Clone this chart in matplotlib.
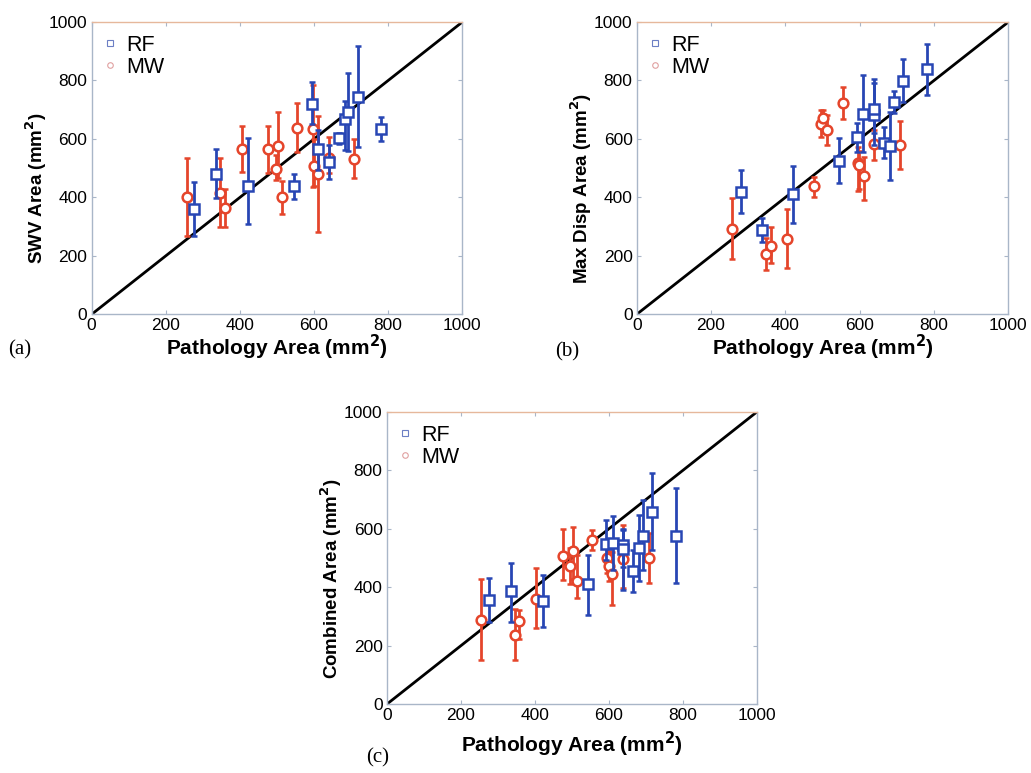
import matplotlib
matplotlib.use("Agg")
import matplotlib.pyplot as plt
from matplotlib.lines import Line2D

plt.rcParams['font.family'] = ['Liberation Sans', 'DejaVu Sans']

# ---------------- data ----------------
# Panel (a) SWV
a_rf_x = [277, 335, 422, 546, 595, 611, 640, 666, 683, 692, 719, 781]
a_rf_y = [360, 479, 440, 439, 719, 564, 522, 602, 667, 693, 744, 634]
a_rf_lo = [269, 397, 309, 393, 651, 494, 463, 582, 562, 560, 571, 593]
a_rf_hi = [453, 564, 602, 480, 796, 630, 579, 622, 730, 824, 918, 674]

a_mw_x = [256, 347, 360, 405, 477, 497, 502, 514, 554, 598, 599, 611, 640, 709]
a_mw_y = [400, 416, 365, 566, 564, 498, 577, 400, 637, 635, 507, 480, 534, 532]
a_mw_lo = [268, 300, 300, 488, 482, 459, 465, 343, 556, 437, 440, 281, 482, 467]
a_mw_hi = [536, 534, 428, 645, 645, 545, 693, 457, 724, 784, 600, 678, 608, 599]

# Panel (b) Max Disp
b_rf_x = [280, 336, 421, 544, 594, 610, 639, 639, 666, 682, 691, 716, 780]
b_rf_y = [418, 288, 410, 526, 605, 685, 682, 701, 587, 576, 727, 799, 838]
b_rf_lo = [348, 248, 313, 450, 556, 556, 579, 619, 534, 459, 688, 727, 750]
b_rf_hi = [494, 328, 507, 602, 653, 819, 804, 792, 640, 693, 765, 873, 925]

b_mw_x = [257, 347, 361, 404, 477, 495, 500, 513, 554, 596, 599, 612, 639, 709]
b_mw_y = [292, 206, 234, 258, 439, 650, 673, 630, 722, 519, 511, 474, 581, 579]
b_mw_lo = [188, 150, 175, 157, 402, 608, 630, 579, 667, 422, 430, 391, 528, 496]
b_mw_hi = [397, 260, 300, 359, 471, 699, 699, 682, 777, 573, 560, 539, 630, 662]

# Panel (c) Combined
c_rf_x = [277, 335, 422, 545, 592, 611, 638, 638, 666, 682, 692, 718, 782]
c_rf_y = [357, 388, 353, 410, 547, 553, 545, 530, 456, 536, 577, 659, 577]
c_rf_lo = [283, 283, 265, 305, 494, 460, 391, 470, 385, 421, 459, 528, 414]
c_rf_hi = [433, 484, 442, 511, 631, 644, 596, 600, 528, 648, 699, 792, 741]

c_mw_x = [255, 347, 358, 403, 477, 496, 503, 513, 554, 596, 602, 610, 638, 709]
c_mw_y = [288, 237, 285, 360, 507, 473, 524, 422, 562, 500, 473, 445, 496, 500]
c_mw_lo = [152, 152, 222, 260, 425, 413, 430, 363, 528, 450, 423, 340, 398, 414]
c_mw_hi = [428, 325, 323, 465, 599, 533, 605, 511, 596, 550, 523, 520, 613, 587]

xlabel = "Pathology Area (mm$^\\mathbf{2}$)"
ylabels = ["SWV Area (mm$^\\mathbf{2}$)", "Max Disp Area (mm$^\\mathbf{2}$)",
           "Combined Area (mm$^\\mathbf{2}$)"]
panel_tags = ["(a)", "(b)", "(c)"]
ticks = [0, 200, 400, 600, 800, 1000]

# ---------------- style ----------------
BLUE = '#2846b4'
RED = '#e5452b'
SPINE = '#a9b6c8'
SPINE_TOP = '#e6b89c'

fig = plt.figure(figsize=(10.31, 7.73), dpi=100)
pos = [
    [0.0889, 0.5934, 0.3595, 0.3781],
    [0.6176, 0.5934, 0.3604, 0.3781],
    [0.3751, 0.0889, 0.3589, 0.3781],
]
data = [
    (a_rf_x, a_rf_y, a_rf_lo, a_rf_hi, a_mw_x, a_mw_y, a_mw_lo, a_mw_hi),
    (b_rf_x, b_rf_y, b_rf_lo, b_rf_hi, b_mw_x, b_mw_y, b_mw_lo, b_mw_hi),
    (c_rf_x, c_rf_y, c_rf_lo, c_rf_hi, c_mw_x, c_mw_y, c_mw_lo, c_mw_hi),
]
tag_pos = [(0.008, 0.547), (0.538, 0.545), (0.355, 0.020)]
xlab_y = [-0.064, -0.064, -0.088]

for i in range(3):
    ax = fig.add_axes(pos[i])
    rx, ry, rlo, rhi, mx, my, mlo, mhi = data[i]
    ax.plot([0, 1000], [0, 1000], color='black', lw=2, zorder=1)
    ax.errorbar(mx, my,
                yerr=[[y - l for y, l in zip(my, mlo)], [h - y for y, h in zip(my, mhi)]],
                fmt='o', color=RED, ecolor=RED, mfc='white', mec=RED, ms=7, mew=1.8,
                elinewidth=2, capsize=2.5, capthick=2, zorder=3)
    ax.errorbar(rx, ry,
                yerr=[[y - l for y, l in zip(ry, rlo)], [h - y for y, h in zip(ry, rhi)]],
                fmt='s', color=BLUE, ecolor=BLUE, mfc='white', mec=BLUE, ms=6.5, mew=1.8,
                elinewidth=2, capsize=2.5, capthick=2, zorder=4)
    ax.set_xlim(0, 1000)
    ax.set_ylim(0, 1000)
    ax.set_xticks(ticks)
    ax.set_yticks(ticks)
    ax.tick_params(direction='in', length=3, width=0.8, color=SPINE, labelsize=12.5,
                   top=True, right=True, pad=3)
    for s in ['left', 'bottom', 'right']:
        ax.spines[s].set_color(SPINE)
        ax.spines[s].set_linewidth(1)
    ax.spines['top'].set_color(SPINE_TOP)
    ax.spines['top'].set_linewidth(1)
    ax.set_xlabel(xlabel, fontsize=15, fontweight='bold')
    ax.set_ylabel(ylabels[i], fontsize=13.5, fontweight='bold')
    ax.xaxis.set_label_coords(0.5, xlab_y[i])
    ax.yaxis.set_label_coords(-0.115, 0.43)
    handles = [
        Line2D([], [], ls='none', marker='s', ms=4, mfc='white', mec='#6c7fc4', mew=0.8),
        Line2D([], [], ls='none', marker='o', ms=4, mfc='white', mec='#e0a0a0', mew=0.8),
    ]
    ax.legend(handles, ['RF', 'MW'], loc='upper left', frameon=False, fontsize=15.5,
              handlelength=0.5, handletextpad=0.5, labelspacing=0.05,
              borderaxespad=0.2, bbox_to_anchor=(0.0, 1.0))
    fig.text(tag_pos[i][0], tag_pos[i][1], panel_tags[i], fontsize=15,
             family=['Liberation Serif', 'DejaVu Serif'], ha='left', va='center')

fig.savefig('out.png', dpi=100)
